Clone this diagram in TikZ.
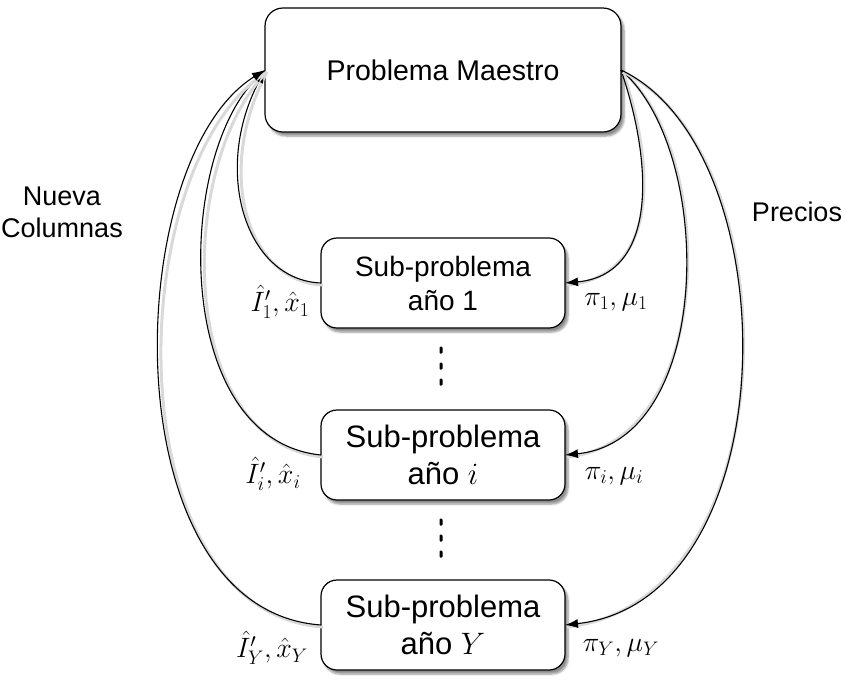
\RequirePackage{fix-cm}
\documentclass[tikz,border=0pt]{standalone}
\usepackage{fontspec}
\setmainfont{Liberation Sans}
\usetikzlibrary{arrows.meta,shadows.blur}
\tikzset{
  x=1pt, y=-1pt,
  box/.style={draw, line width=1.2pt, fill=white, align=center, inner sep=0pt, outer sep=0pt,
    blur shadow={shadow xshift=3pt, shadow yshift=-4pt, shadow blur steps=6, shadow opacity=45}},
  master/.style={box, rounded corners=18pt, minimum width=356pt, minimum height=124pt,
    font=\fontsize{28.5}{34}\selectfont},
  subA/.style={box, rounded corners=16pt, minimum width=244pt, minimum height=90pt,
    font=\fontsize{28}{34}\selectfont},
  subB/.style={box, rounded corners=16pt, minimum width=244pt, minimum height=90pt,
    font=\fontsize{31}{37}\selectfont},
  link/.style={line width=1.1pt, -{Latex[length=13pt,width=9pt]},
    preaction={draw=black!15, line width=3pt, -, transform canvas={xshift=2pt,yshift=-2pt}}},
  lbl/.style={font=\fontsize{28}{32}\selectfont, inner sep=0pt},
  side/.style={font=\fontsize{27}{32}\selectfont, align=center, inner sep=0pt},
}
\begin{document}
\begin{tikzpicture}
\useasboundingbox (0,0) rectangle (846,681);

\node[master] (m) at (443,70) {Problema Maestro};
\node[subA] (s1) at (443,283) {Sub-problema\\año 1};
\node[subB] (si) at (443,455) {Sub-problema\\año $i$};
\node[subB] (sy) at (443,625) {Sub-problema\\año $Y$};

% new columns (left)
\draw[link] (s1.west) .. controls (245,280) and (212,170) .. (m.west);
\draw[link] (si.west) .. controls (172,440) and (175,160) .. (m.west);
\draw[link] (sy.west) .. controls (110,610) and (120,160) .. (m.west);

% prices (right)
\draw[link] (m.east) .. controls (655,170) and (655,275) .. (s1.east);
\draw[link] (m.east) .. controls (715,150) and (715,440) .. (si.east);
\draw[link] (m.east) .. controls (790,150) and (790,600) .. (sy.east);

% vertical dots
\foreach \yy in {350,366,382,522,538,554}
  \fill[rounded corners=1pt] (439.5,\yy-3.5) rectangle (442.5,\yy+3.5);

% labels
\node[lbl] (l1) at (280,302) {$\hat{I}'_1,\hat{x}_1$};
\node[lbl] (r1) at (616,302) {$\pi_1,\mu_1$};
\node[lbl] (li) at (273,474) {$\hat{I}'_i,\hat{x}_i$};
\node[lbl] (ri) at (614,476) {$\pi_i,\mu_i$};
\node[lbl] (ly) at (272,648) {$\hat{I}'_Y,\hat{x}_Y$};
\node[lbl] (ry) at (621,648) {$\pi_Y,\mu_Y$};

\node[side] (nc) at (62,212) {Nueva\\Columnas};
\node[side] (pr) at (797,212) {Precios};
\end{tikzpicture}
\end{document}
